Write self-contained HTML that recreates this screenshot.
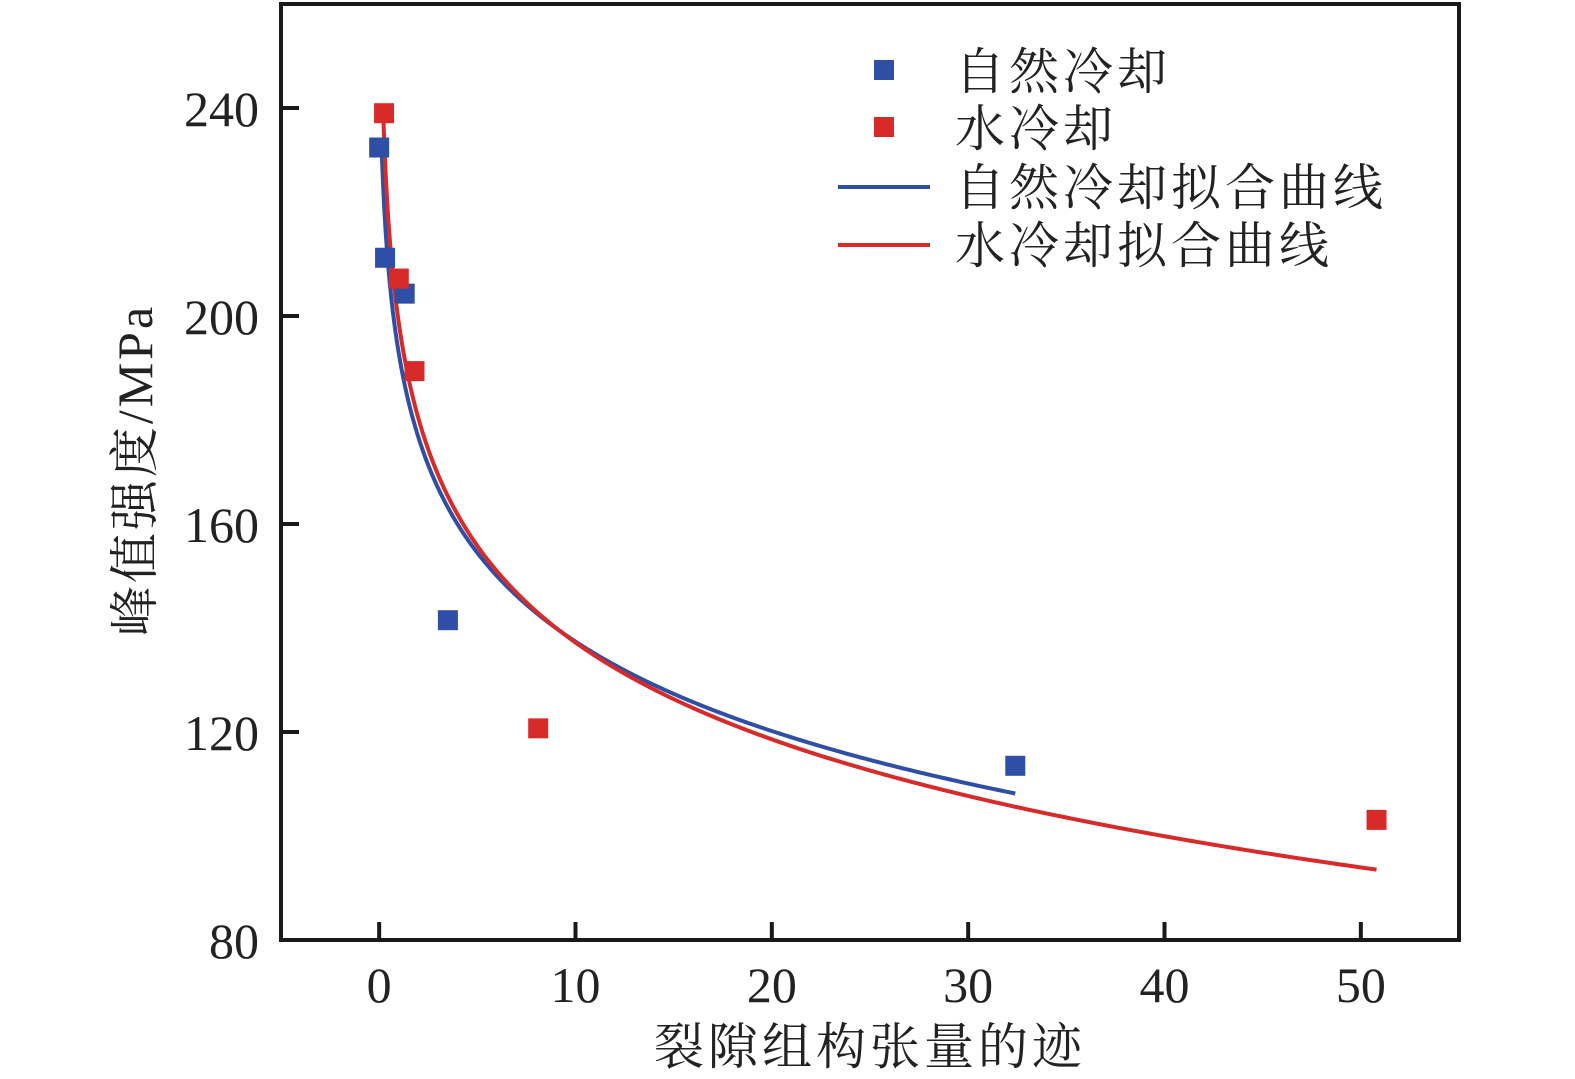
<!DOCTYPE html>
<html><head><meta charset="utf-8">
<style>
html,body{margin:0;padding:0;background:#fff;}
svg{display:block;}
text{font-family:"Liberation Serif","Noto Serif CJK SC",serif;fill:#222;}
</style></head>
<body>
<svg id="chart" width="1575" height="1079" viewBox="0 0 1575 1079" xmlns="http://www.w3.org/2000/svg">
<g id="grid"></g>
<g id="curves"></g>
<g id="points"></g>
<rect x="281" y="4" width="1178" height="936" fill="none" stroke="#1a1a1a" stroke-width="4"/>
<g id="ticks"></g>
<text transform="translate(152,470) rotate(-90)" text-anchor="middle" font-size="50" letter-spacing="3">峰值强度/MPa</text>
<text x="870" y="1064" text-anchor="middle" font-size="50" letter-spacing="4">裂隙组构张量的迹</text>
<g>
<rect x="874" y="60" width="20" height="20" fill="#2f4ea6"/>
<text x="955" y="89" font-size="50" letter-spacing="4">自然冷却</text>
<rect x="874" y="117" width="20" height="20" fill="#d92a2a"/>
<text x="955" y="146" font-size="50" letter-spacing="4">水冷却</text>
<line x1="838" y1="187" x2="930" y2="187" stroke="#2f4ea6" stroke-width="4"/>
<text x="955" y="205" font-size="50" letter-spacing="4">自然冷却拟合曲线</text>
<line x1="838" y1="245" x2="930" y2="245" stroke="#d92a2a" stroke-width="4"/>
<text x="955" y="263" font-size="50" letter-spacing="4">水冷却拟合曲线</text>
</g>
</svg>
<script>
const xTicks = [0, 10, 20, 30, 40, 50];
const yTicks = [80, 120, 160, 200, 240];
const naturalX = [0.0, 0.3, 1.3, 3.5, 32.4];
const naturalY = [232.4, 211.2, 204.3, 141.5, 113.5];
const waterX = [0.25, 1.0, 1.8, 8.1, 50.8];
const waterY = [239.0, 207.2, 189.4, 120.7, 103.1];
// fit: y = a - b*ln(x + c), over [xStart, xEnd]
const naturalFit = [195.2, 25.0, 0.1, 0.12, 32.4];
const waterFit = [199.2, 26.9, 0.02, 0.2, 50.8];

const X0=281, X1=1459, Y0=940, Y1=4;
const xMin=-5, xMax=55, yMin=80, yMax=260;
function sx(v){return X0+(v-xMin)/(xMax-xMin)*(X1-X0);}
function sy(v){return Y0-(v-yMin)/(yMax-yMin)*(Y0-Y1);}
const NS="http://www.w3.org/2000/svg";
function mk(tag, attrs, parent){const e=document.createElementNS(NS,tag);for(const k in attrs)e.setAttribute(k,attrs[k]);parent.appendChild(e);return e;}

const ticks=document.getElementById('ticks');
xTicks.forEach(t=>{
  const l=mk('line',{x1:sx(t),x2:sx(t),y1:Y0,y2:Y0-18,stroke:'#1a1a1a','stroke-width':4},ticks);
  
  
  const tx=mk('text',{x:sx(t),y:Y0+62,'text-anchor':'middle','font-size':50},ticks);
  tx.textContent=t;
  
  
});
yTicks.forEach(t=>{
  const l=mk('line',{x1:X0,x2:X0+18,y1:sy(t),y2:sy(t),stroke:'#1a1a1a','stroke-width':4},ticks);
  
  
  const tx=mk('text',{x:X0-22,y:sy(t)+18,'text-anchor':'end','font-size':50},ticks);
  tx.textContent=t;
  
  
});

const curves=document.getElementById('curves');
function drawFit(p,color,name){
  const [a,b,c,xs,xe]=p;let d='';const N=400;
  for(let i=0;i<=N;i++){
    const x=xs*Math.pow(xe/xs,i/N);
    const y=a-b*Math.log(x+c);
    d+=(i?'L':'M')+sx(x).toFixed(2)+','+sy(y).toFixed(2);
  }
  const pth=mk('path',{d:d,fill:'none',stroke:color,'stroke-width':4},curves);
  
  
}
drawFit(naturalFit,'#2f4ea6','natural-fit-curve');
drawFit(waterFit,'#d92a2a','water-fit-curve');

const pts=document.getElementById('points');
function drawPts(xs,ys,color,name){
  xs.forEach((x,i)=>{
    const r=mk('rect',{x:sx(x)-10,y:sy(ys[i])-10,width:20,height:20,fill:color},pts);
    
    
  });
}
drawPts(naturalX,naturalY,'#2f4ea6','natural-point');
drawPts(waterX,waterY,'#d92a2a','water-point');
</script>
</body></html>
